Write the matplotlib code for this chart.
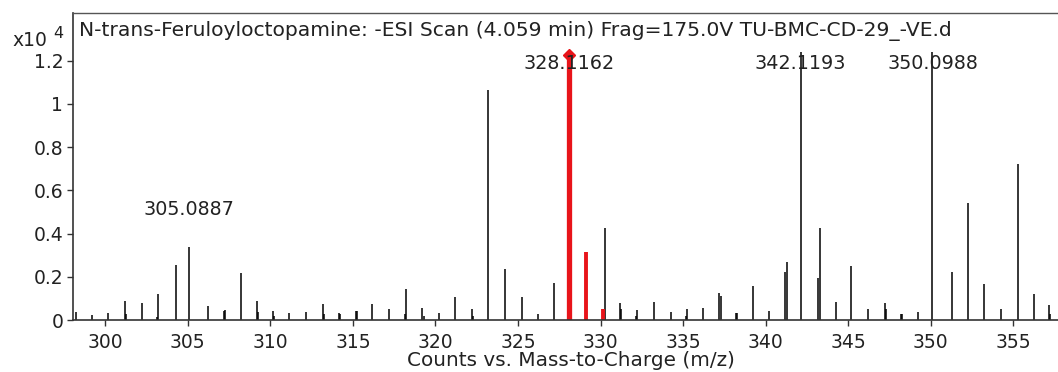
import matplotlib
matplotlib.use("Agg")
import matplotlib.pyplot as plt
from matplotlib.ticker import FuncFormatter, MultipleLocator, FixedLocator

plt.rcParams['font.family'] = ['DejaVu Sans']

title = "N-trans-Feruloyloctopamine: -ESI Scan (4.059 min) Frag=175.0V TU-BMC-CD-29_-VE.d"
xlabel = "Counts vs. Mass-to-Charge (m/z)"
yticks = [0, 0.2, 0.4, 0.6, 0.8, 1.0, 1.2]

# Background ions (m/z, counts)
mz_black = [298.25, 299.23, 300.16, 301.17, 301.25, 302.22, 303.19, 303.13, 304.27, 305.0887,
            306.21, 307.26, 307.22, 308.22, 309.17, 309.25, 310.18, 310.25, 311.14, 312.19,
            313.16, 313.24, 314.17, 314.23, 315.18, 315.24, 316.18, 317.19, 318.24, 318.18,
            319.21, 319.29, 320.19, 321.16, 322.21, 322.28, 323.17, 324.24, 325.23, 326.20,
            327.16, 330.27, 331.18, 331.24, 332.21, 332.15, 333.21, 334.26, 335.23, 335.17,
            336.22, 337.18, 337.28, 338.21, 338.27, 339.20, 340.19, 341.19, 341.28, 342.1193,
            343.27, 343.19, 344.27, 345.16, 346.21, 347.20, 347.26, 348.20, 348.26, 349.23,
            350.0988, 351.29, 352.24, 353.20, 354.25, 355.26, 356.23, 357.18, 357.24]
int_black = [360, 230, 310, 880, 300, 770, 1200, 130, 2550, 3400,
             650, 460, 400, 2190, 890, 350, 430, 200, 340, 390,
             720, 300, 340, 300, 430, 430, 720, 490, 1440, 300,
             540, 200, 340, 1080, 500, 200, 10650, 2360, 1080, 260,
             1700, 4270, 770, 500, 460, 200, 820, 390, 500, 200,
             540, 1270, 1100, 310, 310, 1590, 430, 2240, 2700, 12420,
             4270, 1930, 850, 2500, 500, 770, 500, 260, 260, 390,
             12420, 2200, 5400, 1670, 500, 7220, 1200, 690, 300]

# Compound isotope cluster
mz_red = [328.1162, 329.12, 330.12]
int_red = [12270, 3160, 500]

# Annotated peaks: text, m/z position, label height (x10^4)
ann_text = ["305.0887", "328.1162", "342.1193", "350.0988"]
ann_mz = [305.0887, 328.1162, 342.1193, 350.0988]
ann_y = [0.51, 1.185, 1.185, 1.185]

W, H = 1058, 372
fig = plt.figure(figsize=(W / 100, H / 100), dpi=100)
ax = fig.add_axes([73 / W, (H - 320) / H, 1 - 73 / W, (320 - 13) / H])

scale = 1e4
ax.vlines(mz_black, 0, [v / scale for v in int_black], colors='black', linewidth=1.1)
ax.vlines(mz_red[1:], 0, [v / scale for v in int_red[1:]], colors='#e8141a', linewidth=2.8)
ax.vlines(mz_red[:1], 0, [v / scale for v in int_red[:1]], colors='#e8141a', linewidth=3.8)
ax.plot(mz_red[0], int_red[0] / scale, marker='D', color='#e8141a', markersize=6, clip_on=False)

for t, x, y in zip(ann_text, ann_mz, ann_y):
    ax.text(x, y, t, ha='center', va='center', fontsize=13.8, color='#222222')

ax.set_xlim(298.05, 357.7)
ax.set_ylim(0, 1.421)
ax.xaxis.set_major_locator(MultipleLocator(5))
ax.yaxis.set_major_locator(FixedLocator(yticks))
ax.yaxis.set_major_formatter(FuncFormatter(lambda v, p: '%g' % round(v, 1)))

ax.tick_params(axis='both', direction='out', length=4, width=1, color='#333333',
               labelsize=13.5, labelcolor='#222222')
ax.tick_params(axis='x', pad=5)
ax.tick_params(axis='y', pad=3)
for s in ['left', 'bottom']:
    ax.spines[s].set_color('#333333')
    ax.spines[s].set_linewidth(1.2)
ax.spines['top'].set_color('#555555')
ax.spines['top'].set_linewidth(1.0)
ax.spines['right'].set_visible(False)

ax.text(0.006, 0.94, title, transform=ax.transAxes, ha='left', va='center',
        fontsize=14.6, color='#222222')
fig.text(12 / W, 1 - 40 / H, "x10", ha='left', va='center', fontsize=13.5, color='#222222')
fig.text(53 / W, 1 - 33 / H, "4", ha='left', va='center', fontsize=11.5, color='#222222')
fig.text(571 / W, 1 - 361 / H, xlabel, ha='center', va='center', fontsize=14.4, color='#222222')

fig.savefig("out.png", dpi=100)
